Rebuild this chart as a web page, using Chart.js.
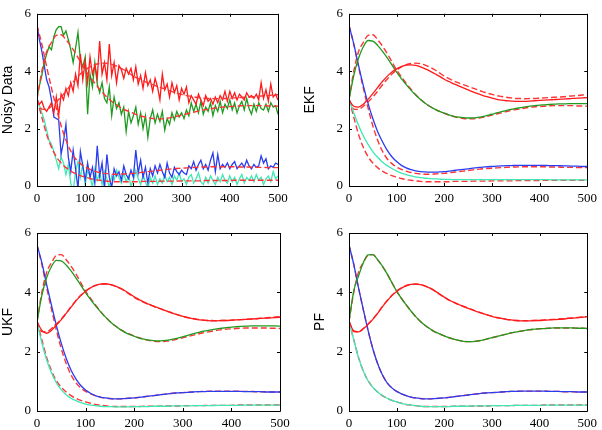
<!DOCTYPE html>
<html>
<head>
<meta charset="utf-8">
<script src="https://cdn.jsdelivr.net/npm/chart.js@4"></script>
<style>
  body { margin: 0; background: #fff; }
  #wrap { position: relative; width: 602px; height: 430px; }
  canvas { position: absolute; }
</style>
</head>
<body>
<div id="wrap">
  <canvas id="c1" width="300" height="215" style="left:0;top:0"></canvas>
  <canvas id="c2" width="302" height="215" style="left:300px;top:0"></canvas>
  <canvas id="c3" width="300" height="215" style="left:0;top:215px"></canvas>
  <canvas id="c4" width="302" height="215" style="left:300px;top:215px"></canvas>
</div>
<script>
// time grids: smooth curves every 10 steps, noisy data every 5 steps
var t10 = Array.from({ length: 51 }, function (_, i) { return i * 10; });
var t5 = Array.from({ length: 101 }, function (_, i) { return i * 5; });
var xTicks = [0, 100, 200, 300, 400, 500];
var yTicks = [0, 2, 4, 6];

// true states (red dashed)
var trueRed = [3.02, 2.68, 2.67, 2.78, 2.93, 3.1, 3.3, 3.52, 3.72, 3.9, 4.04, 4.15, 4.23, 4.27, 4.28, 4.26, 4.21, 4.14, 4.05, 3.94, 3.83, 3.74, 3.66, 3.59, 3.53, 3.47, 3.41, 3.35, 3.29, 3.24, 3.19, 3.15, 3.12, 3.09, 3.07, 3.05, 3.05, 3.04, 3.05, 3.05, 3.06, 3.07, 3.08, 3.09, 3.1, 3.11, 3.13, 3.14, 3.15, 3.17, 3.18];
var trueGreen = [3.02, 4.0, 4.68, 5.0, 5.25, 5.27, 5.1, 4.88, 4.62, 4.33, 4.04, 3.8, 3.58, 3.37, 3.18, 3.02, 2.88, 2.77, 2.67, 2.6, 2.53, 2.47, 2.42, 2.38, 2.35, 2.34, 2.34, 2.36, 2.39, 2.43, 2.47, 2.51, 2.55, 2.59, 2.63, 2.66, 2.69, 2.72, 2.74, 2.76, 2.77, 2.78, 2.79, 2.8, 2.8, 2.8, 2.8, 2.8, 2.79, 2.79, 2.78];
var trueBlue = [5.6, 4.94, 4.15, 3.42, 2.72, 2.1, 1.6, 1.22, 0.95, 0.78, 0.66, 0.58, 0.52, 0.47, 0.44, 0.42, 0.41, 0.41, 0.42, 0.43, 0.44, 0.46, 0.48, 0.5, 0.52, 0.54, 0.56, 0.58, 0.6, 0.61, 0.62, 0.63, 0.64, 0.65, 0.66, 0.66, 0.67, 0.67, 0.67, 0.67, 0.67, 0.67, 0.66, 0.66, 0.66, 0.65, 0.65, 0.65, 0.64, 0.64, 0.64];
var trueCyan = [3.02, 2.4, 1.8, 1.35, 1.02, 0.8, 0.64, 0.52, 0.43, 0.36, 0.31, 0.26, 0.22, 0.2, 0.18, 0.16, 0.15, 0.15, 0.15, 0.15, 0.15, 0.15, 0.16, 0.16, 0.16, 0.16, 0.17, 0.17, 0.17, 0.17, 0.18, 0.18, 0.18, 0.18, 0.18, 0.19, 0.19, 0.19, 0.19, 0.19, 0.19, 0.2, 0.2, 0.2, 0.2, 0.2, 0.2, 0.2, 0.2, 0.2, 0.2];

// noisy measurements
var noisyRed = [3.0, 2.85, 2.95, 2.7, 2.6, 2.75, 2.9, 2.55, 3.1, 2.45, 3.2, 3.0, 3.4, 3.15, 3.6, 3.3, 3.9, 3.5, 4.6, 3.7, 4.35, 3.6, 4.5, 3.9, 4.2, 3.75, 5.05, 3.9, 4.3, 3.7, 4.95, 3.85, 4.3, 3.6, 4.2, 4.05, 3.75, 4.1, 3.9, 4.1, 3.7, 4.15, 3.55, 3.85, 3.4, 3.95, 3.5, 3.7, 3.3, 3.75, 3.45, 3.0, 3.9, 3.35, 3.55, 3.1, 3.6, 3.25, 3.5, 3.0, 3.4, 3.2, 3.45, 2.9, 3.15, 3.0, 2.85, 3.2, 3.0, 2.8, 3.15, 2.95, 3.05, 2.85, 3.1, 2.9, 3.15, 3.0, 3.3, 2.95, 3.3, 3.05, 3.25, 3.0, 3.2, 3.1, 3.0, 3.25, 3.1, 3.15, 3.05, 3.2, 3.0, 3.6, 3.05, 3.35, 2.95, 3.55, 3.1, 3.2, 3.0];
var noisyGreen = [3.1, 3.5, 3.85, 4.3, 4.6, 4.85, 4.75, 5.2, 5.45, 5.55, 5.55, 5.25, 5.4, 5.1, 4.75, 4.3, 4.8, 5.35, 4.4, 4.15, 4.5, 2.5, 3.9, 3.45, 4.3, 3.55, 3.25, 3.6, 3.05, 2.9, 3.45, 2.45, 3.1, 2.7, 2.9, 2.5, 2.75, 1.9, 2.6, 2.2, 2.45, 2.75, 2.15, 2.55, 2.0, 2.45, 1.7, 2.35, 2.65, 2.2, 2.5, 2.25, 2.6, 1.95, 2.35, 2.15, 2.55, 2.3, 2.6, 2.4, 2.55, 2.35, 2.65, 2.45, 2.9, 2.6, 2.85, 2.55, 2.95, 2.5, 2.75, 2.6, 2.9, 2.45, 2.8, 2.6, 2.95, 2.55, 2.85, 2.7, 3.0, 2.65, 2.9, 2.55, 2.8, 2.95, 2.65, 3.05, 2.7, 2.5, 2.85, 2.6, 2.9, 2.7, 2.65, 2.85, 2.6, 2.9, 2.75, 2.8, 2.5];
var noisyBlue = [5.6, 5.1, 4.7, 4.2, 3.7, 3.45, 3.0, 2.4, 2.35, 2.3, 1.1, 1.55, 2.15, 1.0, 0.5, 1.25, 0.6, -0.1, 1.2, 0.7, 0.2, 0.8, 0.3, 0.65, 0.1, 1.4, 0.35, 0.8, -0.1, 1.1, 0.3, -0.05, 0.6, 0.35, 0.5, 0.2, 0.7, 0.4, 0.25, 0.55, 0.3, 1.25, 0.45, 0.9, 0.3, 0.65, 0.1, 0.6, 0.35, 0.7, 0.45, 0.75, 0.5, 0.3, 0.8, 0.45, 0.3, 0.65, 0.5, 0.4, 0.55, 0.45, 0.4, 0.7, 0.6, 0.85, 0.55, 0.75, 0.9, 0.6, 0.75, 0.55, 0.9, 1.15, 0.5, 1.1, 0.6, 0.75, 0.65, 0.8, 0.6, 0.75, 0.85, 0.6, 0.7, 0.8, 0.65, 0.9, 0.7, 0.6, 0.75, 0.65, 0.7, 1.05, 0.8, 0.95, 0.6, 0.7, 0.65, 0.8, 0.75];
var noisyCyan = [3.05, 2.8, 2.55, 2.3, 1.95, 1.6, 1.45, 1.2, 0.9, 0.6, 1.0, 0.8, 0.4, 0.75, 0.1, -0.2, 0.5, 0.85, 0.3, 0.75, 0.05, 0.55, 0.35, -0.05, 0.6, 0.2, 0.45, 0.05, 0.5, 0.25, -0.05, 0.35, 0.2, 0.55, 0.3, 0.1, 0.45, 0.15, 0.35, 0.0, 0.2, 0.55, 0.25, 0.05, 0.4, 0.15, -0.1, 0.3, 0.1, 0.35, 0.05, 0.25, 0.1, 0.4, 0.15, 0.3, 0.05, 0.35, 0.2, 0.45, 0.15, 0.25, 0.05, 0.3, 0.4, 0.1, 0.25, 0.45, 0.15, 0.05, 0.3, 0.1, 0.35, 0.2, 0.05, 0.3, 0.15, 0.4, 0.2, 0.1, 0.35, 0.15, 0.3, 0.05, 0.25, 0.4, 0.1, 0.3, 0.2, 0.35, 0.15, 0.4, 0.2, 0.3, 0.05, 0.25, 0.35, 0.15, 0.5, 0.25, 0.35];

// EKF estimates
var ekfRed = [3.0, 2.78, 2.75, 2.85, 3.02, 3.22, 3.43, 3.64, 3.82, 3.97, 4.08, 4.16, 4.21, 4.22, 4.2, 4.15, 4.08, 4.0, 3.91, 3.82, 3.72, 3.64, 3.56, 3.49, 3.42, 3.35, 3.28, 3.22, 3.16, 3.11, 3.06, 3.02, 2.99, 2.97, 2.96, 2.95, 2.95, 2.95, 2.96, 2.97, 2.98, 2.99, 3.0, 3.01, 3.02, 3.03, 3.04, 3.05, 3.06, 3.07, 3.08];
var ekfGreen = [3.0, 3.85, 4.45, 4.85, 5.07, 5.05, 4.9, 4.7, 4.47, 4.22, 3.97, 3.74, 3.53, 3.34, 3.17, 3.01, 2.88, 2.77, 2.68, 2.6, 2.54, 2.48, 2.43, 2.4, 2.38, 2.37, 2.37, 2.39, 2.42, 2.46, 2.5, 2.55, 2.59, 2.63, 2.67, 2.7, 2.73, 2.76, 2.78, 2.8, 2.82, 2.83, 2.84, 2.85, 2.86, 2.86, 2.87, 2.87, 2.87, 2.87, 2.87];
var ekfBlue = [5.6, 4.95, 4.2, 3.5, 2.88, 2.35, 1.9, 1.55, 1.25, 1.02, 0.85, 0.72, 0.63, 0.57, 0.53, 0.5, 0.49, 0.48, 0.48, 0.49, 0.5, 0.52, 0.54, 0.56, 0.58, 0.6, 0.62, 0.64, 0.66, 0.67, 0.68, 0.69, 0.7, 0.71, 0.71, 0.72, 0.72, 0.72, 0.72, 0.72, 0.72, 0.72, 0.71, 0.71, 0.71, 0.7, 0.7, 0.69, 0.69, 0.68, 0.68];
var ekfCyan = [3.0, 2.55, 2.12, 1.75, 1.45, 1.2, 1.0, 0.84, 0.71, 0.61, 0.52, 0.45, 0.4, 0.35, 0.32, 0.29, 0.27, 0.26, 0.25, 0.24, 0.23, 0.23, 0.22, 0.22, 0.22, 0.22, 0.22, 0.22, 0.22, 0.22, 0.22, 0.22, 0.22, 0.22, 0.22, 0.22, 0.22, 0.22, 0.22, 0.22, 0.22, 0.22, 0.22, 0.21, 0.21, 0.21, 0.21, 0.21, 0.21, 0.21, 0.21];

// UKF estimates
var ukfRed = [3.0, 2.72, 2.62, 2.72, 2.9, 3.08, 3.29, 3.5, 3.71, 3.89, 4.04, 4.15, 4.23, 4.28, 4.29, 4.27, 4.22, 4.15, 4.06, 3.96, 3.85, 3.76, 3.67, 3.6, 3.53, 3.47, 3.41, 3.35, 3.29, 3.24, 3.19, 3.15, 3.11, 3.08, 3.06, 3.05, 3.04, 3.04, 3.05, 3.05, 3.06, 3.07, 3.08, 3.09, 3.1, 3.11, 3.12, 3.13, 3.14, 3.15, 3.16];
var ukfGreen = [3.0, 3.9, 4.5, 4.88, 5.08, 5.06, 4.92, 4.72, 4.49, 4.24, 3.99, 3.76, 3.55, 3.36, 3.18, 3.02, 2.88, 2.76, 2.66, 2.58, 2.52, 2.46, 2.42, 2.39, 2.37, 2.36, 2.37, 2.39, 2.42, 2.46, 2.5, 2.55, 2.6, 2.64, 2.68, 2.71, 2.74, 2.77, 2.79, 2.81, 2.83, 2.84, 2.85, 2.86, 2.87, 2.87, 2.87, 2.87, 2.87, 2.87, 2.86];
var ukfBlue = [5.6, 5.0, 4.25, 3.55, 2.88, 2.28, 1.78, 1.38, 1.08, 0.86, 0.71, 0.6, 0.52, 0.47, 0.44, 0.42, 0.41, 0.41, 0.42, 0.43, 0.44, 0.46, 0.48, 0.5, 0.52, 0.54, 0.56, 0.58, 0.6, 0.61, 0.62, 0.63, 0.64, 0.65, 0.65, 0.66, 0.66, 0.66, 0.66, 0.66, 0.66, 0.66, 0.66, 0.65, 0.65, 0.65, 0.65, 0.64, 0.64, 0.64, 0.64];
var ukfCyan = [3.0, 2.3, 1.72, 1.28, 0.95, 0.72, 0.55, 0.43, 0.35, 0.28, 0.23, 0.2, 0.18, 0.16, 0.15, 0.15, 0.14, 0.14, 0.14, 0.14, 0.15, 0.15, 0.15, 0.15, 0.16, 0.16, 0.16, 0.16, 0.17, 0.17, 0.17, 0.17, 0.18, 0.18, 0.18, 0.18, 0.18, 0.19, 0.19, 0.19, 0.19, 0.19, 0.19, 0.2, 0.2, 0.2, 0.2, 0.2, 0.2, 0.2, 0.2];

// PF estimates
var pfRed = [3.02, 2.7, 2.67, 2.77, 2.92, 3.09, 3.29, 3.51, 3.71, 3.89, 4.03, 4.14, 4.22, 4.27, 4.28, 4.26, 4.21, 4.14, 4.05, 3.94, 3.84, 3.74, 3.66, 3.59, 3.52, 3.46, 3.4, 3.34, 3.29, 3.24, 3.19, 3.15, 3.12, 3.09, 3.07, 3.05, 3.04, 3.04, 3.04, 3.05, 3.05, 3.06, 3.07, 3.08, 3.09, 3.1, 3.12, 3.13, 3.15, 3.16, 3.18];
var pfGreen = [3.02, 4.05, 4.55, 5.0, 5.26, 5.27, 5.1, 4.88, 4.62, 4.33, 4.04, 3.8, 3.58, 3.37, 3.18, 3.02, 2.88, 2.77, 2.67, 2.6, 2.53, 2.47, 2.42, 2.38, 2.35, 2.34, 2.34, 2.36, 2.39, 2.43, 2.47, 2.51, 2.55, 2.59, 2.63, 2.66, 2.69, 2.72, 2.74, 2.76, 2.77, 2.78, 2.79, 2.8, 2.8, 2.8, 2.8, 2.8, 2.79, 2.79, 2.78];
var pfBlue = [5.6, 4.94, 4.15, 3.42, 2.72, 2.1, 1.6, 1.22, 0.95, 0.78, 0.66, 0.58, 0.52, 0.47, 0.44, 0.42, 0.41, 0.41, 0.42, 0.43, 0.44, 0.46, 0.48, 0.5, 0.52, 0.54, 0.56, 0.58, 0.6, 0.61, 0.62, 0.63, 0.64, 0.65, 0.66, 0.66, 0.67, 0.67, 0.67, 0.67, 0.67, 0.67, 0.66, 0.66, 0.66, 0.65, 0.65, 0.65, 0.64, 0.64, 0.64];
var pfCyan = [3.02, 2.4, 1.8, 1.35, 1.02, 0.8, 0.64, 0.52, 0.43, 0.36, 0.31, 0.26, 0.22, 0.2, 0.18, 0.16, 0.15, 0.15, 0.15, 0.15, 0.15, 0.15, 0.16, 0.16, 0.16, 0.16, 0.17, 0.17, 0.17, 0.17, 0.18, 0.18, 0.18, 0.18, 0.18, 0.19, 0.19, 0.19, 0.19, 0.19, 0.19, 0.2, 0.2, 0.2, 0.2, 0.2, 0.2, 0.2, 0.2, 0.2, 0.2];

var RED = '#ff1a1a', GREEN = '#1f9a1f', BLUE = '#2a3cf0', CYAN = '#3de8b4', DASH = '#ff3333';

function xy(ts, vals) {
  return vals.map(function (v, i) { return { x: ts[i], y: v }; });
}

function solid(ts, vals, color, smooth, order) {
  return { data: xy(ts, vals), borderColor: color, borderWidth: 1.3, pointRadius: 0,
           tension: smooth ? 0.4 : 0, cubicInterpolationMode: smooth ? 'monotone' : 'default',
           fill: false, order: order };
}

function dashed(vals, order) {
  return { data: xy(t10, vals), borderColor: DASH, borderWidth: 1.4, borderDash: [6, 3],
           pointRadius: 0, cubicInterpolationMode: 'monotone', fill: false, order: order };
}

function truthSet(order) {
  return [dashed(trueRed, order), dashed(trueGreen, order), dashed(trueBlue, order), dashed(trueCyan, order)];
}

// box around the plot + inward ticks on all four sides
var framePlugin = {
  id: 'frame',
  afterDatasetsDraw: function (chart) {
    var a = chart.chartArea, ctx = chart.ctx;
    var xs = chart.scales.x, ys = chart.scales.y, L = 3;
    ctx.save();
    ctx.strokeStyle = '#000';
    ctx.lineWidth = 1;
    ctx.beginPath();
    ctx.rect(Math.round(a.left) + 0.5, Math.round(a.top) + 0.5,
             Math.round(a.right) - Math.round(a.left), Math.round(a.bottom) - Math.round(a.top));
    xTicks.forEach(function (v) {
      var px = Math.round(xs.getPixelForValue(v)) + 0.5;
      ctx.moveTo(px, a.bottom); ctx.lineTo(px, a.bottom - L);
      ctx.moveTo(px, a.top); ctx.lineTo(px, a.top + L);
    });
    yTicks.forEach(function (v) {
      var py = Math.round(ys.getPixelForValue(v)) + 0.5;
      ctx.moveTo(a.left, py); ctx.lineTo(a.left + L, py);
      ctx.moveTo(a.right, py); ctx.lineTo(a.right - L, py);
    });
    ctx.stroke();
    ctx.restore();
  }
};

function panel(id, title, datasets, g) {
  var tickFont = { family: 'Liberation Serif', size: 13 };
  new Chart(document.getElementById(id), {
    type: 'line',
    data: { datasets: datasets },
    options: {
      responsive: false,
      animation: false,
      layout: { padding: { top: g.padTop, right: g.padRight, left: 0, bottom: 0 } },
      plugins: { legend: { display: false }, tooltip: { enabled: false } },
      scales: {
        x: {
          type: 'linear', min: 0, max: 500,
          grid: { display: false, drawTicks: false },
          border: { display: false },
          ticks: { stepSize: 100, color: '#000', font: tickFont, padding: 5, maxRotation: 0 },
          afterFit: function (s) { s.height = g.H; }
        },
        y: {
          min: 0, max: 6,
          grid: { display: false, drawTicks: false },
          border: { display: false },
          ticks: { stepSize: 2, color: '#000', font: tickFont, padding: 6 },
          title: { display: true, text: title, color: '#000',
                   font: { family: 'Liberation Sans', size: 14 }, padding: { top: g.titlePad, bottom: 0 } },
          afterFit: function (s) { s.width = g.W; }
        }
      }
    },
    plugins: [framePlugin]
  });
}

// Noisy data: dashed truth drawn on top of the measurements
panel('c1', 'Noisy Data', truthSet(1).concat([
  solid(t5, noisyRed, RED, false, 2), solid(t5, noisyGreen, GREEN, false, 2),
  solid(t5, noisyBlue, BLUE, false, 2), solid(t5, noisyCyan, CYAN, false, 2)
]), { W: 37, H: 29, padTop: 7, padRight: 22, titlePad: 0 });

panel('c2', 'EKF', truthSet(2).concat([
  solid(t10, ekfRed, RED, true, 1), solid(t10, ekfGreen, GREEN, true, 1),
  solid(t10, ekfBlue, BLUE, true, 1), solid(t10, ekfCyan, CYAN, true, 1)
]), { W: 49, H: 29, padTop: 7, padRight: 11, titlePad: 2 });

panel('c3', 'UKF', truthSet(2).concat([
  solid(t10, ukfRed, RED, true, 1), solid(t10, ukfGreen, GREEN, true, 1),
  solid(t10, ukfBlue, BLUE, true, 1), solid(t10, ukfCyan, CYAN, true, 1)
]), { W: 37, H: 19, padTop: 18, padRight: 20, titlePad: 0 });

panel('c4', 'PF', truthSet(2).concat([
  solid(t10, pfRed, RED, true, 1), solid(t10, pfGreen, GREEN, true, 1),
  solid(t10, pfBlue, BLUE, true, 1), solid(t10, pfCyan, CYAN, true, 1)
]), { W: 49, H: 19, padTop: 18, padRight: 13, titlePad: 12 });
</script>
</body>
</html>
